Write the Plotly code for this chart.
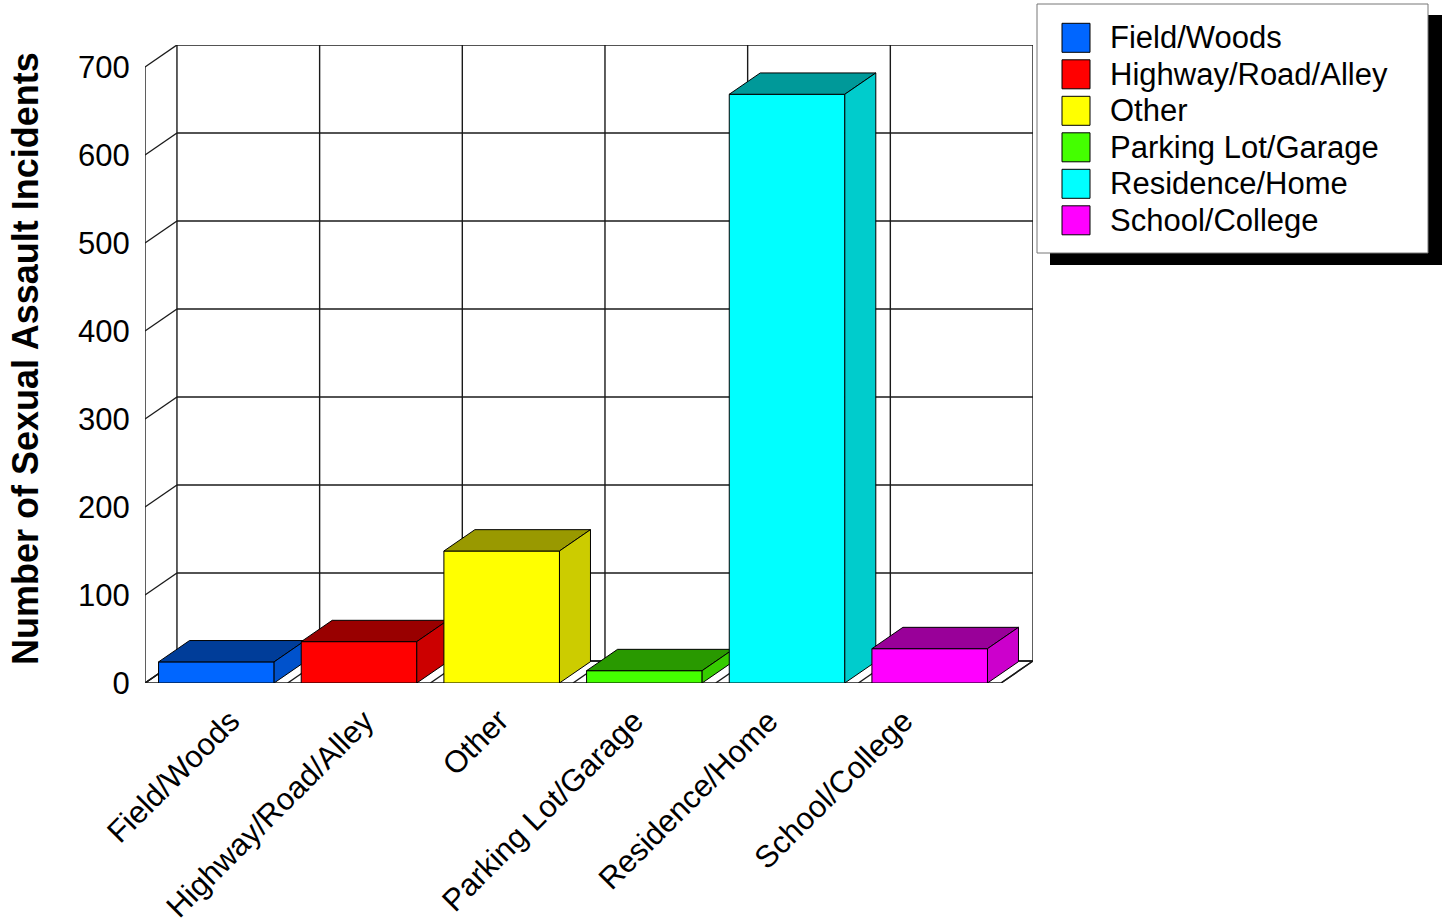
import plotly.graph_objects as go

# ---------------- data ----------------
categories = ["Field/Woods", "Highway/Road/Alley", "Other",
              "Parking Lot/Garage", "Residence/Home", "School/College"]
incidents = [24, 47, 150, 14, 669, 39]
y_tick_values = [0, 100, 200, 300, 400, 500, 600, 700]
y_title = "Number of Sexual Assault Incidents"

front_colors = ["#0066FF", "#FF0000", "#FFFF00", "#44FF00", "#00FFFF", "#FF00FF"]
top_colors = ["#003D99", "#990000", "#999900", "#299900", "#009999", "#990099"]
side_colors = ["#0052CC", "#CC0000", "#CCCC00", "#36CC00", "#00CCCC", "#CC00CC"]

# ---------------- geometry / style ----------------
W, H = 1450, 924
ML, MR, MT, MB = 145, 417, 45, 241
Y_MAX = 700
DX = 0.224      # depth offset in category units
DY = 25         # depth offset in value units
BAR_L, BAR_R = 0.095, 0.905
BAR_DEPTH = 0.97
FONT = "Liberation Sans, Arial, Helvetica, sans-serif"
GRID = "#1a1a1a"
n = len(categories)

PW = W - ML - MR
PH = H - MT - MB


def px_x(p):
    return (p - ML) / PW


def px_y(p):
    return (H - MB - p) / PH


fig = go.Figure()
shapes = []


def line(x0, y0, x1, y1, width=1.4, layer="below"):
    shapes.append(dict(type="line", xref="x", yref="y", x0=x0, y0=y0, x1=x1, y1=y1,
                       line=dict(color=GRID, width=width), layer=layer))


# floor
shapes.append(dict(type="path", xref="x", yref="y", layer="below",
                   path=f"M 0 0 L {n} 0 L {n + DX} {DY} L {DX} {DY} Z",
                   fillcolor="white", line=dict(color=GRID, width=1.4)))
for i in range(n + 1):
    line(i, 0, i + DX, DY)
# back wall verticals
for i in range(n + 1):
    line(i + DX, DY, i + DX, Y_MAX + DY)
# back wall horizontals + side wall diagonals
for t in y_tick_values:
    line(DX, t + DY, n + DX, t + DY)
    line(0, t, DX, t + DY)
# front value axis
line(0, 0, 0, Y_MAX)

# bars (front, top, side faces)
for i, (cat, v) in enumerate(zip(categories, incidents)):
    x0, x1 = i + BAR_L, i + BAR_R
    dx, dy = DX * BAR_DEPTH, DY * BAR_DEPTH
    faces = [
        ([x0, x1, x1, x0, x0], [0, 0, v, v, 0], front_colors[i]),
        ([x0, x1, x1 + dx, x0 + dx, x0], [v, v, v + dy, v + dy, v], top_colors[i]),
        ([x1, x1 + dx, x1 + dx, x1, x1], [0, dy, v + dy, v, 0], side_colors[i]),
    ]
    for fx, fy, col in faces:
        fig.add_trace(go.Scatter(x=fx, y=fy, mode="lines", fill="toself",
                                 fillcolor=col, line=dict(color="black", width=1),
                                 name=cat, showlegend=False,
                                 hovertemplate=f"{cat}: {v}<extra></extra>"))

annotations = []
# category labels
LABEL_X0_PX, LABEL_STEP_PX = 249, 134.7
for i, cat in enumerate(categories):
    annotations.append(dict(text=cat, xref="paper", yref="paper",
                            x=px_x(LABEL_X0_PX + LABEL_STEP_PX * i), y=px_y(700),
                            xanchor="right", yanchor="top", textangle=-45,
                            showarrow=False, font=dict(family=FONT, size=31, color="black")))
# y title
annotations.append(dict(text=f"<b>{y_title}</b>", xref="paper", yref="paper",
                        x=px_x(25), y=px_y(359), xanchor="center", yanchor="middle",
                        textangle=-90, showarrow=False,
                        font=dict(family=FONT, size=36, color="black")))

# legend (drawn manually with shadow)
shapes.append(dict(type="rect", xref="paper", yref="paper", layer="above",
                   x0=px_x(1050), x1=px_x(1442), y0=px_y(15), y1=px_y(265),
                   fillcolor="black", line=dict(width=0)))
shapes.append(dict(type="rect", xref="paper", yref="paper", layer="above",
                   x0=px_x(1037), x1=px_x(1428), y0=px_y(4), y1=px_y(253),
                   fillcolor="white", line=dict(color="#777777", width=1)))
for k, cat in enumerate(categories):
    top = 23.3 + 36.5 * k
    shapes.append(dict(type="rect", xref="paper", yref="paper", layer="above",
                       x0=px_x(1062), x1=px_x(1090), y0=px_y(top), y1=px_y(top + 29),
                       fillcolor=front_colors[k], line=dict(color="black", width=1)))
    annotations.append(dict(text=cat, xref="paper", yref="paper",
                            x=px_x(1108), y=px_y(top + 14.5), xanchor="left",
                            yanchor="middle", showarrow=False,
                            font=dict(family=FONT, size=31, color="black")))

fig.update_layout(
    width=W, height=H, autosize=False,
    margin=dict(l=ML, r=MR, t=MT, b=MB, pad=0),
    paper_bgcolor="white", plot_bgcolor="white",
    showlegend=False,
    shapes=shapes, annotations=annotations,
    font=dict(family=FONT, color="black"),
    xaxis=dict(range=[0, n + DX], showgrid=False, zeroline=False, showline=False,
               showticklabels=False, ticks="", fixedrange=True),
    yaxis=dict(range=[0, Y_MAX + DY], showgrid=False, zeroline=False, showline=False,
               tickvals=y_tick_values, ticktext=[str(t) for t in y_tick_values],
               ticks="outside", ticklen=8, tickcolor="rgba(0,0,0,0)",
               tickfont=dict(family=FONT, size=31, color="black"), fixedrange=True),
)

fig.write_html("out.html", config={"displayModeBar": False},
               post_script="document.body.style.margin='0';")
